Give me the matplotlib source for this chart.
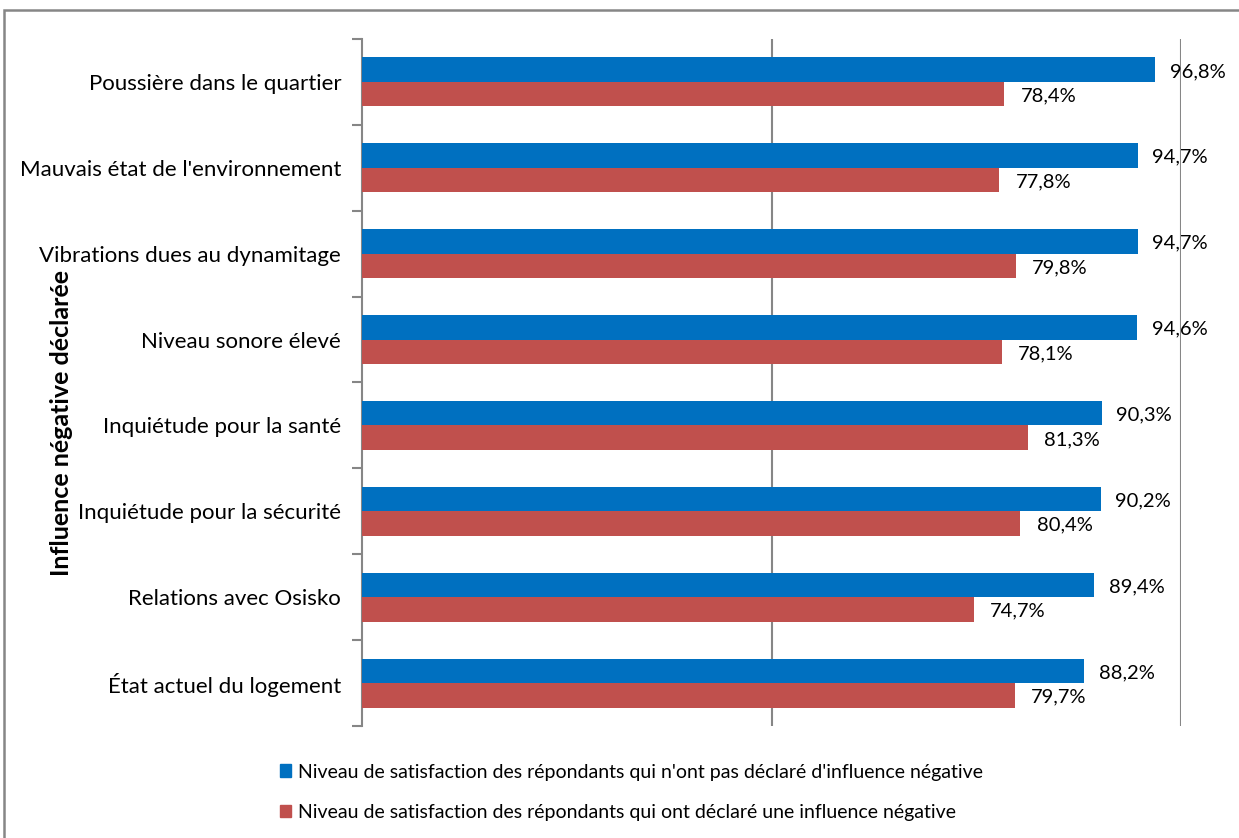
import numpy as np
import matplotlib
matplotlib.use("Agg")
import matplotlib.pyplot as plt
from matplotlib.patches import Rectangle, Patch

plt.rcParams['font.family'] = ['Lato', 'DejaVu Sans']

# categories, top to bottom as in the chart
categories = [
    "Poussière dans le quartier",
    "Mauvais état de l'environnement",
    "Vibrations dues au dynamitage",
    "Niveau sonore élevé",
    "Inquiétude pour la santé",
    "Inquiétude pour la sécurité",
    "Relations avec Osisko",
    "État actuel du logement",
]
sans_influence = [96.8, 94.7, 94.7, 94.6, 90.3, 90.2, 89.4, 88.2]
avec_influence = [78.4, 77.8, 79.8, 78.1, 81.3, 80.4, 74.7, 79.7]
legend_labels = [
    "Niveau de satisfaction des répondants qui n'ont pas déclaré d'influence négative",
    "Niveau de satisfaction des répondants qui ont déclaré une influence négative",
]
blue = "#0070C0"
red = "#C0504D"
grey = "#868686"

fig = plt.figure(figsize=(12.39, 8.38), dpi=100)
ax = fig.add_axes([362 / 1239, 1 - 726 / 838, 819 / 1239, 687 / 838])

y = np.arange(len(categories))
h = 0.285
ax.barh(y - h / 2, sans_influence, height=h, color=blue, zorder=3)
ax.barh(y + h / 2, avec_influence, height=h, color=red, zorder=3)

for yi, v in zip(y, sans_influence):
    ax.text(v + 1.8, yi - h / 2 + 0.02, f"{v:.1f}%".replace(".", ","),
            va="center", ha="left", fontsize=14.5)
for yi, v in zip(y, avec_influence):
    ax.text(v + 2.0, yi + h / 2 + 0.02, f"{v:.1f}%".replace(".", ","),
            va="center", ha="left", fontsize=14.5)

ax.set_xlim(0, 100)
ax.set_ylim(len(categories) - 0.5, -0.5)
ax.set_xticks([])
ax.set_yticks(y)
ax.set_yticklabels(categories, fontsize=16)
ax.set_yticks(np.arange(len(categories) + 1) - 0.5, minor=True)
ax.tick_params(axis="y", which="major", length=0, pad=15)
ax.tick_params(axis="y", which="minor", length=7, width=1.5, color=grey)
for x in (50, 100):
    ax.axvline(x, color=grey, lw=1.5, zorder=1)
for s in ("top", "right", "bottom"):
    ax.spines[s].set_visible(False)
ax.spines["left"].set_color(grey)
ax.spines["left"].set_linewidth(1.5)

fig.text(62 / 1239, 1 - 423 / 838, "Influence négative déclarée",
         rotation=90, ha="center", va="center", fontsize=18, fontweight="bold")

handles = [Patch(color=blue), Patch(color=red)]
fig.legend(handles, legend_labels, loc="upper left",
           bbox_to_anchor=(262 / 1239, 1 - 746 / 838), frameon=False,
           fontsize=14, handlelength=0.6, handleheight=0.6,
           handletextpad=0.35, labelspacing=1.2)

fig.patches.append(Rectangle((4 / 1239, -0.1), 2, 1.1 - 10 / 838,
                             transform=fig.transFigure, fill=False,
                             edgecolor=grey, lw=1.8))

fig.savefig("out.png", dpi=100)
